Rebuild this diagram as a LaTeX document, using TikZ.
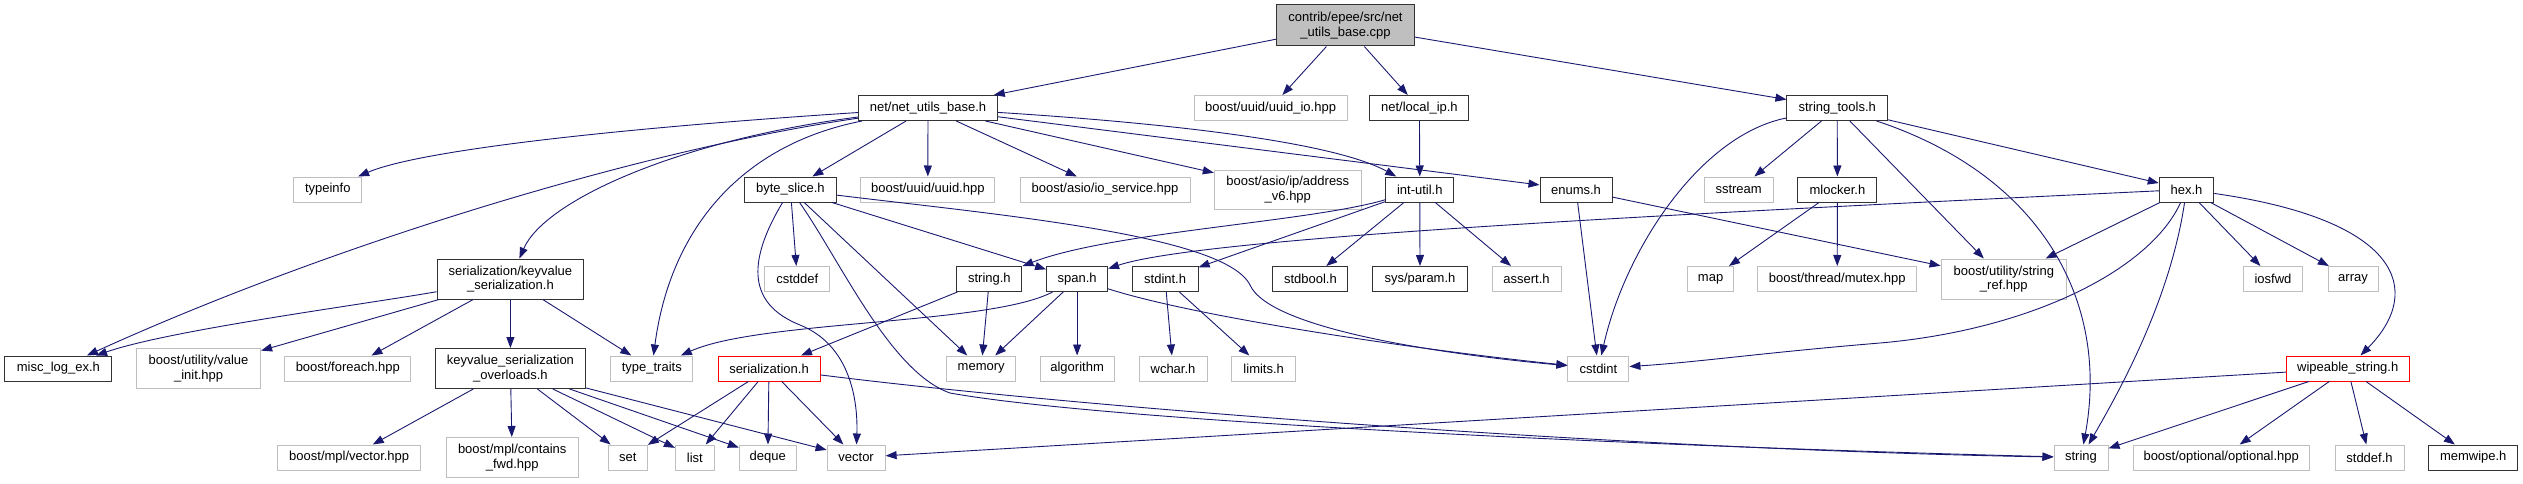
\documentclass[tikz,border=0pt]{standalone}
\usepackage{fontspec}
\setmainfont{Liberation Sans}
\usetikzlibrary{arrows.meta}
\definecolor{edgeblue}{RGB}{25,25,112}
\definecolor{boxgray}{RGB}{191,191,191}
\definecolor{boxred}{RGB}{255,0,0}
\begin{document}
\begin{tikzpicture}[x=1pt, y=-1pt, >={Triangle[length=11pt,width=8pt]},
    file/.style={draw=black!80, line width=1pt, fill=white, inner sep=0pt, minimum height=25pt, align=center, font=\fontsize{13}{14.5}\selectfont},
    sys/.style={file, draw=boxgray},
    part/.style={file, draw=boxred},
    dep/.style={->, draw=edgeblue, line width=0.9pt}]
\useasboundingbox (0,0) rectangle (2523,484);
\node[file, fill=boxgray, minimum width=138pt, minimum height=41pt] (root) at (1345.5,25.5) {contrib/epee/src/net\\\_utils\_base.cpp};
\node[file, minimum width=139pt] (nub) at (928,108) {net/net\_utils\_base.h};
\node[sys, minimum width=153pt] (uuidio) at (1270.6,108) {boost/uuid/uuid\_io.hpp};
\node[file, minimum width=99pt] (lip) at (1419.4,108) {net/local\_ip.h};
\node[file, minimum width=100.5pt] (stt) at (1837.2,108) {string\_tools.h};
\node[sys, minimum width=68pt] (typeinfo) at (327.8,189.5) {typeinfo};
\node[file, minimum width=92pt] (bsl) at (790.4,189.5) {byte\_slice.h};
\node[sys, minimum width=134pt] (uuid) at (927.8,189.5) {boost/uuid/uuid.hpp};
\node[sys, minimum width=170pt] (ios) at (1105,189.5) {boost/asio/io\_service.hpp};
\node[sys, minimum width=147pt, minimum height=39pt] (addr) at (1287.8,189.5) {boost/asio/ip/address\\\_v6.hpp};
\node[file, minimum width=68pt] (iu) at (1419.8,189.5) {int-util.h};
\node[file, minimum width=72pt] (enums) at (1576,189.5) {enums.h};
\node[sys, minimum width=69pt] (sstream) at (1738.6,189.5) {sstream};
\node[file, minimum width=79pt] (mlock) at (1837.4,189.5) {mlocker.h};
\node[file, minimum width=54.5pt] (hex) at (2186.5,189.5) {hex.h};
\node[file, minimum width=146.5pt, minimum height=40pt] (kvs) at (510.4,279) {serialization/keyvalue\\\_serialization.h};
\node[sys, minimum width=65pt] (cstddef) at (797.3,279) {cstddef};
\node[file, minimum width=65pt] (strh) at (989.4,279) {string.h};
\node[file, minimum width=61pt] (span) at (1077.1,279) {span.h};
\node[file, minimum width=66pt] (stdint) at (1165.1,279) {stdint.h};
\node[file, minimum width=75pt] (stdbool) at (1310.4,279) {stdbool.h};
\node[file, minimum width=95pt] (sysparam) at (1420,279) {sys/param.h};
\node[sys, minimum width=69pt] (assert) at (1526.5,279) {assert.h};
\node[sys, minimum width=46.5pt] (map) at (1710.6,279) {map};
\node[sys, minimum width=159pt] (mutex) at (1837.2,279) {boost/thread/mutex.hpp};
\node[sys, minimum width=125.5pt, minimum height=40pt] (sref) at (2003.8,279) {boost/utility/string\\\_ref.hpp};
\node[sys, minimum width=59.5pt] (iosfwd) at (2273,279) {iosfwd};
\node[sys, minimum width=50pt] (array) at (2353,279) {array};
\node[file, minimum width=107pt] (misc) at (58.4,368.5) {misc\_log\_ex.h};
\node[sys, minimum width=124pt, minimum height=40pt] (vinit) at (198.6,368.5) {boost/utility/value\\\_init.hpp};
\node[sys, minimum width=126pt] (foreach) at (347.8,368.5) {boost/foreach.hpp};
\node[file, minimum width=150.6pt, minimum height=40pt] (kvo) at (510.4,368.5) {keyvalue\_serialization\\\_overloads.h};
\node[sys, minimum width=82pt] (tt) at (651.8,368.5) {type\_traits};
\node[part, minimum width=102pt] (ser) at (769,368.5) {serialization.h};
\node[sys, minimum width=69pt] (memory) at (981.2,368.5) {memory};
\node[sys, minimum width=74pt] (algo) at (1077.1,368.5) {algorithm};
\node[sys, minimum width=68pt] (wchar) at (1173,368.5) {wchar.h};
\node[sys, minimum width=64pt] (limits) at (1263.7,368.5) {limits.h};
\node[sys, minimum width=61pt] (cstdint) at (1598.4,368.5) {cstdint};
\node[part, minimum width=122.6pt] (wipe) at (2347.7,368.5) {wipeable\_string.h};
\node[sys, minimum width=143pt] (mplvec) at (349.2,457.5) {boost/mpl/vector.hpp};
\node[sys, minimum width=132pt, minimum height=40pt] (cfwd) at (512.2,457.5) {boost/mpl/contains\\\_fwd.hpp};
\node[sys, minimum width=39pt] (set) at (627.8,457.5) {set};
\node[sys, minimum width=39pt] (list) at (694.9,457.5) {list};
\node[sys, minimum width=57pt] (deque) at (767.8,457.5) {deque};
\node[sys, minimum width=58pt] (vector) at (856.1,457.5) {vector};
\node[sys, minimum width=54pt] (string) at (2081,457.5) {string};
\node[sys, minimum width=176pt] (opt) at (2221.2,457.5) {boost/optional/optional.hpp};
\node[sys, minimum width=69pt] (stddef) at (2369.5,457.5) {stddef.h};
\node[file, minimum width=89pt] (memwipe) at (2473.2,457.5) {memwipe.h};
\draw[dep] (root) -- (nub);
\draw[dep] (root) -- (uuidio);
\draw[dep] (root) -- (lip);
\draw[dep] (root) -- (stt);
\draw[dep] (nub) .. controls (620,128) and (420,150) .. (typeinfo);
\draw[dep] (nub) .. controls (640,150) and (330,245) .. (misc);
\draw[dep] (nub) .. controls (680,140) and (545,200) .. (kvs);
\draw[dep] (nub) .. controls (740,145) and (670,230) .. (tt);
\draw[dep] (nub) -- (bsl);
\draw[dep] (nub) -- (uuid);
\draw[dep] (nub) -- (ios);
\draw[dep] (nub) -- (addr);
\draw[dep] (nub) .. controls (1150,122) and (1330,140) .. (iu);
\draw[dep] (nub) -- (enums);
\draw[dep] (lip) -- (iu);
\draw[dep] (bsl) .. controls (745,265) and (750,305) .. (800,325) .. controls (850,345) and (858,400) .. (vector);
\draw[dep] (bsl) -- (cstddef);
\draw[dep] (bsl) .. controls (840,260) and (890,372) .. (950,393) .. controls (1100,420) and (1600,445) .. (string);
\draw[dep] (bsl) -- (memory);
\draw[dep] (bsl) -- (span);
\draw[dep] (bsl) .. controls (1000,215) and (1225,235) .. (1250,285) .. controls (1270,330) and (1450,355) .. (cstdint);
\draw[dep] (strh) -- (memory);
\draw[dep] (strh) -- (ser);
\draw[dep] (span) .. controls (990,325) and (760,320) .. (tt);
\draw[dep] (span) -- (memory);
\draw[dep] (span) -- (algo);
\draw[dep] (span) .. controls (1200,318) and (1420,350) .. (cstdint);
\draw[dep] (stdint) -- (wchar);
\draw[dep] (stdint) -- (limits);
\draw[dep] (iu) .. controls (1310,222) and (1110,232) .. (strh);
\draw[dep] (iu) -- (stdint);
\draw[dep] (iu) -- (stdbool);
\draw[dep] (iu) -- (sysparam);
\draw[dep] (iu) -- (assert);
\draw[dep] (enums) -- (cstdint);
\draw[dep] (enums) -- (sref);
\draw[dep] (stt) .. controls (1700,135) and (1625,250) .. (cstdint);
\draw[dep] (stt) -- (sstream);
\draw[dep] (stt) -- (mlock);
\draw[dep] (stt) -- (sref);
\draw[dep] (stt) .. controls (2040,175) and (2110,300) .. (string);
\draw[dep] (stt) -- (hex);
\draw[dep] (mlock) -- (map);
\draw[dep] (mlock) -- (mutex);
\draw[dep] (hex) .. controls (1650,215) and (1200,238) .. (span);
\draw[dep] (hex) -- (sref);
\draw[dep] (hex) .. controls (2150,270) and (2030,330) .. (1880,343) .. controls (1760,353) and (1700,362) .. (cstdint);
\draw[dep] (hex) .. controls (2170,300) and (2120,390) .. (string);
\draw[dep] (hex) -- (iosfwd);
\draw[dep] (hex) -- (array);
\draw[dep] (hex) .. controls (2400,220) and (2425,290) .. (wipe);
\draw[dep] (kvs) .. controls (360,305) and (170,330) .. (misc);
\draw[dep] (kvs) -- (vinit);
\draw[dep] (kvs) -- (foreach);
\draw[dep] (kvs) -- (kvo);
\draw[dep] (kvs) -- (tt);
\draw[dep] (kvo) -- (mplvec);
\draw[dep] (kvo) -- (cfwd);
\draw[dep] (kvo) -- (set);
\draw[dep] (kvo) -- (list);
\draw[dep] (kvo) -- (deque);
\draw[dep] (kvo) -- (vector);
\draw[dep] (ser) -- (set);
\draw[dep] (ser) -- (list);
\draw[dep] (ser) -- (deque);
\draw[dep] (ser) -- (vector);
\draw[dep] (ser) .. controls (1100,410) and (1650,450) .. (string);
\draw[dep] (wipe) -- (vector);
\draw[dep] (wipe) -- (string);
\draw[dep] (wipe) -- (opt);
\draw[dep] (wipe) -- (stddef);
\draw[dep] (wipe) -- (memwipe);
\end{tikzpicture}
\end{document}
